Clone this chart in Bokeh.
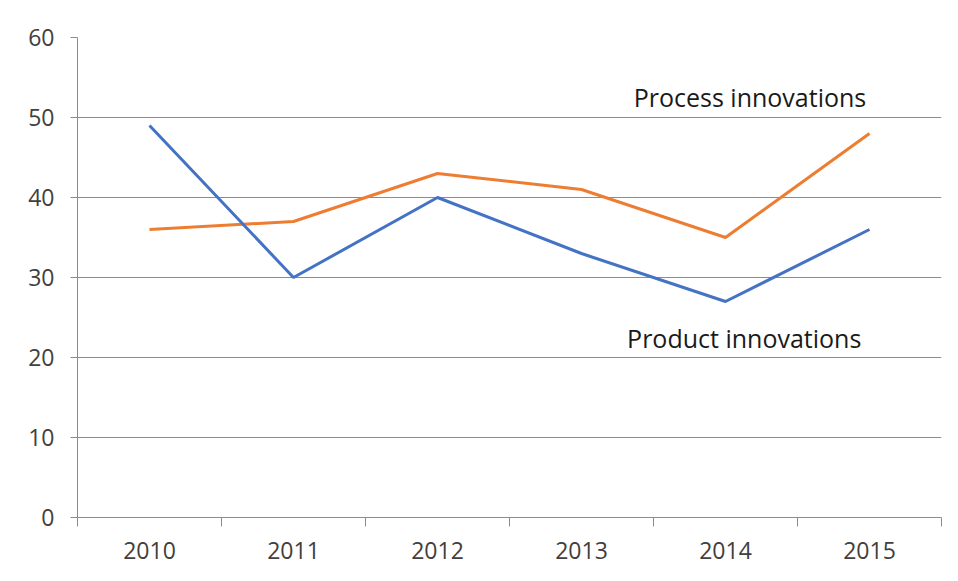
from bokeh.plotting import figure
from bokeh.models import FixedTicker, Label, Range1d, ColumnDataSource
from bokeh.embed import file_html
from bokeh.resources import INLINE

years = ["2010", "2011", "2012", "2013", "2014", "2015"]
product = [49, 30, 40, 33, 27, 36]
process = [36, 37, 43, 41, 35, 48]
y_ticks = [0, 10, 20, 30, 40, 50, 60]

xpos = [i + 0.5 for i in range(len(years))]

FONT = "Open Sans"
GRID = "#8c8c8c"

p = figure(frame_width=864, frame_height=480,
           min_border_left=77, min_border_top=37, min_border_right=9, min_border_bottom=56,
           x_range=Range1d(0, len(years)), y_range=Range1d(0, 60),
           output_backend="svg", toolbar_location=None)
p.outline_line_color = None
p.background_fill_color = "white"
p.border_fill_color = "white"

src = ColumnDataSource(dict(x=xpos, product=product, process=process))
p.line("x", "process", source=src, line_color="#ED7D31", line_width=3)
p.line("x", "product", source=src, line_color="#4472C4", line_width=3)

# x axis: labels at category centers, tick marks at boundaries
p.xaxis.ticker = FixedTicker(ticks=xpos, minor_ticks=list(range(len(years) + 1)))
p.xaxis.major_label_overrides = {x: y for x, y in zip(xpos, years)}
p.xaxis.major_tick_line_color = None
p.xaxis.major_tick_out = 9
p.xaxis.major_tick_in = 0
p.xaxis.minor_tick_out = 9
p.xaxis.minor_tick_in = 0
p.xaxis.minor_tick_line_color = GRID
p.xaxis.axis_line_color = GRID
p.xaxis.major_label_standoff = 15
p.xgrid.grid_line_color = None

p.yaxis.ticker = FixedTicker(ticks=y_ticks)
p.yaxis.major_tick_out = 7
p.yaxis.major_tick_in = 0
p.yaxis.minor_tick_line_color = None
p.yaxis.major_tick_line_color = GRID
p.yaxis.axis_line_color = GRID
p.yaxis.major_label_standoff = 16
p.ygrid.grid_line_color = GRID

for ax in (p.xaxis, p.yaxis):
    ax.major_label_text_font = FONT
    ax.major_label_text_font_size = "23px"
    ax.major_label_text_color = "#404040"

p.add_layout(Label(x=4.67, y=52.6, text="Process innovations", text_align="center",
                   text_baseline="middle", text_font=FONT, text_font_size="25px",
                   text_color="#1a1a1a"))
p.add_layout(Label(x=4.63, y=22.5, text="Product innovations", text_align="center",
                   text_baseline="middle", text_font=FONT, text_font_size="25px",
                   text_color="#1a1a1a"))

open("out.html", "w").write(file_html(p, INLINE))
